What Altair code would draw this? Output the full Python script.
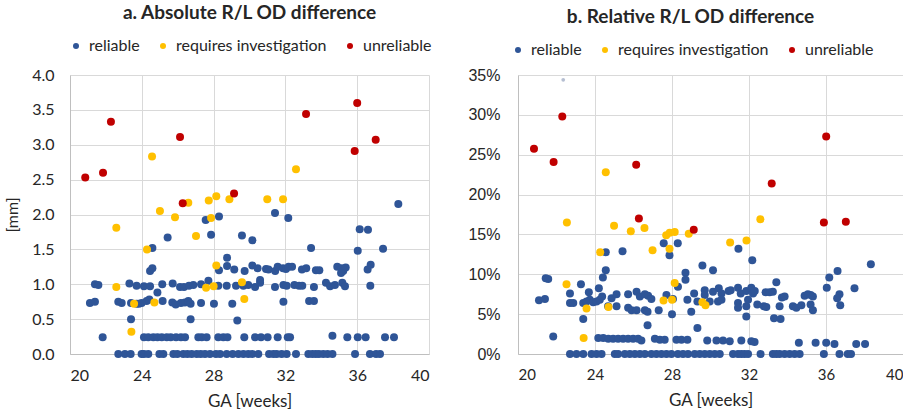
import altair as alt
import pandas as pd

CATS = ["reliable", "requires investigation", "unreliable"]
COLORS = ["#2F5597", "#FFC000", "#C00000"]
TXT = "#262626"
GRID = "#D9D9D9"

# ---------------- a. Absolute R/L OD difference [mm] ----------------
abs_reliable = [
    (27.56, 1.92), (28.30, 1.97), (25.44, 1.67), (27.86, 1.71), (29.58, 1.70), (30.16, 1.63),
    (31.42, 2.02), (32.16, 1.95), (38.29, 2.15), (36.14, 1.79), (36.60, 1.78), (37.44, 1.51),
    (36.03, 1.48), (33.43, 1.52), (24.59, 1.52), (28.75, 1.38),
    (24.46, 1.19), (24.59, 1.23), (28.30, 1.20), (28.75, 1.26), (29.15, 1.21), (29.73, 1.19),
    (30.16, 1.27), (30.45, 1.23), (30.92, 1.22), (31.06, 1.21), (31.43, 1.19), (31.57, 1.25),
    (31.87, 1.23), (32.03, 1.22), (32.18, 1.25), (32.37, 1.25), (32.92, 1.21), (33.16, 1.23),
    (33.70, 1.20), (33.89, 1.20), (34.89, 1.25), (35.13, 1.23), (35.22, 1.19), (35.36, 1.24),
    (35.10, 1.16), (36.58, 1.21), (36.75, 1.28),
    (21.39, 1.00), (21.58, 0.99), (23.31, 1.01), (23.71, 0.98), (24.12, 0.97), (24.46, 0.97),
    (25.14, 1.00), (25.72, 1.01), (26.13, 0.96), (26.35, 0.96), (26.63, 0.98), (26.87, 0.99),
    (27.30, 1.00), (27.71, 1.05), (28.26, 0.98), (28.73, 0.98), (29.25, 0.98), (29.66, 0.98),
    (29.93, 0.99), (30.31, 0.96), (30.59, 1.02), (30.59, 1.06), (31.42, 0.96), (31.89, 0.99),
    (32.07, 0.98), (32.50, 0.99), (32.76, 0.98), (32.94, 0.98), (33.59, 0.96), (34.26, 1.02),
    (34.49, 0.97), (34.76, 0.99), (35.17, 1.02), (35.32, 0.97), (36.73, 0.98),
    (24.87, 0.88),
    (21.11, 0.73), (21.39, 0.75), (22.69, 0.75), (22.88, 0.73), (23.40, 0.73), (23.71, 0.72),
    (23.84, 0.72), (23.99, 0.73), (24.27, 0.76), (24.42, 0.78), (25.16, 0.76), (25.70, 0.74),
    (25.89, 0.71), (26.18, 0.73), (26.40, 0.74), (26.59, 0.76), (26.72, 0.72), (27.30, 0.73),
    (28.02, 0.72), (29.04, 0.72), (31.89, 0.75), (33.32, 0.76), (33.59, 0.76),
    (23.40, 0.50), (26.72, 0.50), (29.32, 0.48),
    (21.82, 0.24), (24.12, 0.24), (24.36, 0.24), (24.64, 0.24), (24.87, 0.24), (25.11, 0.24),
    (25.39, 0.24), (25.61, 0.24), (25.91, 0.24), (26.18, 0.24), (26.41, 0.24), (27.15, 0.24),
    (27.34, 0.24), (27.61, 0.24), (28.26, 0.24), (28.54, 0.24), (28.77, 0.24), (29.71, 0.24),
    (30.31, 0.24), (30.64, 0.24), (31.01, 0.24), (31.57, 0.24), (32.13, 0.24), (32.26, 0.24),
    (34.62, 0.26), (35.45, 0.24), (36.03, 0.24), (36.47, 0.24), (37.55, 0.24), (38.05, 0.24),
    (22.69, 0), (23.06, 0), (23.38, 0), (23.99, 0), (24.12, 0), (24.36, 0), (24.98, 0), (25.20, 0),
    (25.76, 0), (25.98, 0), (26.31, 0), (26.54, 0), (26.78, 0), (27.06, 0), (27.28, 0), (27.52, 0),
    (27.80, 0), (28.13, 0), (28.36, 0), (28.73, 0), (29.06, 0), (29.38, 0), (29.66, 0), (29.93, 0),
    (30.16, 0), (30.49, 0), (31.09, 0), (31.33, 0), (31.51, 0), (31.79, 0), (32.07, 0), (32.59, 0),
    (33.28, 0), (33.50, 0), (33.69, 0), (33.87, 0), (34.11, 0), (34.35, 0), (34.62, 0), (35.88, 0),
    (36.71, 0), (37.05, 0), (37.27, 0),
]
abs_investigate = [
    (24.57, 2.83), (32.59, 2.65), (22.58, 1.81), (25.01, 2.05), (25.85, 1.96), (26.59, 2.17),
    (27.02, 1.69), (27.73, 2.20), (27.86, 1.95), (28.15, 2.26), (28.88, 2.22), (30.99, 2.22),
    (31.87, 2.22), (24.29, 1.50), (28.15, 1.27), (22.58, 0.96), (23.57, 0.72), (24.70, 0.74),
    (27.58, 0.95), (28.00, 0.97), (29.58, 1.03), (29.71, 0.79), (23.42, 0.32),
]
abs_unreliable = [
    (22.28, 3.33), (26.13, 3.11), (33.15, 3.44), (36.00, 3.60), (37.03, 3.07), (35.86, 2.91),
    (20.85, 2.53), (21.84, 2.60), (26.28, 2.16), (29.14, 2.30),
]

# ---------------- b. Relative R/L OD difference [%] ----------------
rel_reliable = [
    (24.56, 12.75), (25.43, 12.9), (27.57, 13.9), (28.30, 13.9), (27.87, 12.4), (31.45, 13.2),
    (32.17, 11.75), (29.58, 11.1), (30.13, 10.5), (28.70, 10.2), (38.33, 11.25), (36.60, 10.4),
    (36.17, 9.6), (24.56, 10.5), (24.41, 9.6), (21.44, 9.5), (21.57, 9.4),
    (21.09, 6.75), (21.40, 6.9), (23.27, 8.75), (22.70, 7.6), (22.70, 6.4), (22.87, 6.4),
    (23.39, 6.4), (23.56, 6.6), (23.73, 6.8), (23.91, 6.5), (24.08, 6.6), (24.25, 6.8),
    (24.37, 7.2), (24.20, 8.25), (23.68, 7.75), (23.39, 4.4), (21.83, 2.2), (24.86, 7.0),
    (25.12, 7.5), (25.72, 7.5), (26.16, 7.8), (26.33, 7.2), (26.59, 7.5), (26.76, 7.3),
    (26.93, 6.9), (27.71, 7.4), (28.05, 6.9), (28.31, 8.45), (28.70, 9.3), (28.80, 6.8),
    (29.15, 7.6), (29.32, 6.6), (29.70, 8.0), (29.70, 7.4), (24.68, 6.0), (25.12, 6.0),
    (25.72, 5.8), (25.90, 5.5), (26.16, 5.5), (26.59, 5.5), (26.73, 5.3), (27.31, 5.5),
    (28.00, 5.0), (29.00, 5.3), (26.73, 3.6), (29.32, 3.25),
    (33.42, 9.0), (36.04, 8.3), (37.48, 8.25), (36.70, 7.5), (36.58, 7.0), (36.74, 6.1),
    (30.13, 7.8), (30.43, 8.25), (30.57, 7.6), (30.94, 7.9), (31.05, 8.0), (31.43, 8.3),
    (31.57, 7.6), (31.86, 7.9), (32.12, 8.3), (32.21, 7.6), (32.30, 7.9), (32.86, 7.75),
    (33.07, 7.75), (33.24, 7.8), (33.71, 7.1), (33.85, 7.2), (34.89, 7.3), (35.06, 7.5),
    (35.20, 7.4), (35.32, 7.2),
    (29.96, 6.6), (30.39, 6.6), (30.57, 6.8), (31.43, 6.4), (31.43, 5.8), (31.86, 6.0),
    (31.95, 6.8), (32.43, 6.2), (32.77, 6.0), (32.90, 5.9), (33.59, 6.0), (34.28, 6.0),
    (34.46, 5.8), (34.72, 6.1), (35.20, 6.2), (35.32, 5.5),
    (31.86, 4.7), (33.30, 4.5), (33.64, 4.4),
    (24.17, 2.0), (24.43, 2.0), (24.69, 1.9), (24.94, 1.9), (25.20, 1.9), (25.46, 1.9),
    (25.72, 1.9), (25.98, 1.9), (26.24, 1.9), (26.41, 1.7), (27.11, 1.9), (27.37, 1.8),
    (27.62, 1.8), (28.23, 1.8), (28.49, 1.8), (28.80, 1.8), (29.83, 1.7), (30.31, 1.7),
    (30.65, 1.7), (31.00, 1.6), (31.60, 1.7), (32.12, 1.6), (32.29, 1.5), (34.59, 1.4),
    (35.46, 1.4), (36.01, 1.4), (36.44, 1.25), (37.57, 1.25), (38.03, 1.25),
    (22.70, 0), (23.04, 0), (23.39, 0), (23.82, 0), (24.08, 0), (24.34, 0), (25.03, 0), (25.20, 0),
    (25.55, 0), (25.81, 0), (26.07, 0), (26.33, 0), (26.59, 0), (26.93, 0), (27.19, 0), (27.45, 0),
    (27.71, 0), (27.97, 0), (28.31, 0), (28.57, 0), (28.83, 0), (29.18, 0), (29.44, 0), (29.70, 0),
    (29.96, 0), (30.22, 0), (30.48, 0), (31.17, 0), (31.43, 0), (31.60, 0), (31.77, 0), (31.95, 0),
    (32.60, 0), (33.24, 0), (33.42, 0), (33.59, 0), (33.85, 0), (34.11, 0), (34.37, 0), (34.63, 0),
    (35.89, 0), (36.70, 0), (37.13, 0), (37.30, 0),
]
rel_investigate = [
    (24.56, 22.8), (22.54, 16.5), (24.99, 16.1), (25.86, 15.4), (26.57, 15.8), (26.99, 13.0),
    (27.70, 14.9), (27.88, 15.2), (28.14, 15.3), (27.87, 13.2), (28.87, 15.1), (31.02, 14.0),
    (31.87, 14.25), (32.59, 16.9), (24.27, 12.75), (22.52, 8.75), (23.56, 5.7), (24.70, 5.9),
    (23.41, 2.0), (27.56, 6.7), (28.00, 6.8), (28.14, 8.9), (29.58, 6.5), (29.74, 6.1),
]
rel_unreliable = [
    (22.30, 29.8), (36.01, 27.3), (20.83, 25.75), (21.85, 24.1), (26.14, 23.75), (33.18, 21.4),
    (26.28, 17.0), (29.13, 15.6), (35.89, 16.5), (37.03, 16.6),
]
rel_faint = [(22.35, 34.4)]

X_TICKS = [20, 24, 28, 32, 36, 40]
ABS_TICKS = [0, 0.5, 1.0, 1.5, 2.0, 2.5, 3.0, 3.5, 4.0]
REL_TICKS = [0, 5, 10, 15, 20, 25, 30, 35]


def frame(series):
    rows = []
    for cat, pts in zip(CATS, series):
        for ga, v in pts:
            rows.append({"ga": ga, "v": v, "cat": cat})
    return pd.DataFrame(rows)


df_abs = frame([abs_reliable, abs_investigate, abs_unreliable])
df_rel = frame([rel_reliable, rel_investigate, rel_unreliable])
df_faint = pd.DataFrame(rel_faint, columns=["ga", "v"])


def x_enc(label_size):
    return alt.X("ga:Q", scale=alt.Scale(domain=[20, 40], nice=False),
                 axis=alt.Axis(values=X_TICKS, title="GA [weeks]", grid=True, gridColor=GRID,
                               domainColor="#BFBFBF", ticks=False, labelFont="Lato",
                               labelFontSize=label_size, labelColor=TXT, labelPadding=13,
                               titleFont="Lato", titleFontSize=17, titleFontWeight="normal",
                               titleColor=TXT, titlePadding=10))


def legend(lx, ly):
    return alt.Legend(title=None, orient="none", legendX=lx, legendY=ly,
                      direction="horizontal", symbolType="circle", symbolSize=36,
                      labelFont="Lato", labelFontSize=16, labelColor=TXT,
                      labelOffset=5, columnPadding=15)


color_scale = alt.Scale(domain=CATS, range=COLORS)

abs_y = alt.Y("v:Q", scale=alt.Scale(domain=[0, 4], nice=False),
              axis=alt.Axis(values=ABS_TICKS, format=".1f", title="[mm]", grid=True,
                            gridColor=GRID, domainColor="#BFBFBF", ticks=False,
                            labelFont="Lato", labelFontSize=16, labelColor=TXT,
                            labelPadding=16, minExtent=42, maxExtent=42,
                            titleFont="Lato", titleFontSize=16, titleFontWeight="normal",
                            titleColor=TXT, titlePadding=8))

rel_y = alt.Y("v:Q", scale=alt.Scale(domain=[0, 35], nice=False),
              axis=alt.Axis(values=REL_TICKS, labelExpr="datum.value + '%'", title=None,
                            grid=True, gridColor=GRID, domainColor="#BFBFBF", ticks=False,
                            labelFont="Liberation Sans", labelFontSize=16, labelColor=TXT,
                            labelPadding=18))

left = alt.Chart(df_abs).mark_circle(size=64, opacity=1).encode(
    x=x_enc(16),
    y=abs_y,
    color=alt.Color("cat:N", scale=color_scale, legend=legend(-2, -37)),
    order=alt.Order("idx:Q"),
).transform_window(idx="row_number()").properties(
    width=359, height=279,
    title=alt.TitleParams("a. Absolute R/L OD difference", font="Lato", fontSize=19,
                          fontWeight="bold", color=TXT, anchor="middle", frame="group",
                          offset=15),
)

rel_points = alt.Chart(df_rel).mark_circle(size=64, opacity=1).encode(
    x=x_enc(15),
    y=rel_y,
    color=alt.Color("cat:N", scale=color_scale, legend=legend(-8, -33)),
    order=alt.Order("idx:Q"),
).transform_window(idx="row_number()")

rel_faint_pts = alt.Chart(df_faint).mark_circle(size=14, opacity=0.45, color="#5A6E9A").encode(
    x=x_enc(15), y=rel_y
)

right = alt.layer(rel_points, rel_faint_pts).properties(
    width=385, height=279,
    title=alt.TitleParams("b. Relative R/L OD difference", font="Lato", fontSize=19,
                          fontWeight="bold", color=TXT, anchor="middle", frame="group",
                          offset=15, dx=-20),
)

chart = alt.hconcat(left, right, spacing=35).resolve_legend(
    color="independent"
).properties(
    padding={"left": 4, "top": 4, "right": 0, "bottom": 0},
    background="white",
).configure_view(strokeWidth=0)

chart.save("out.html", embed_options={"renderer": "svg", "actions": False})
